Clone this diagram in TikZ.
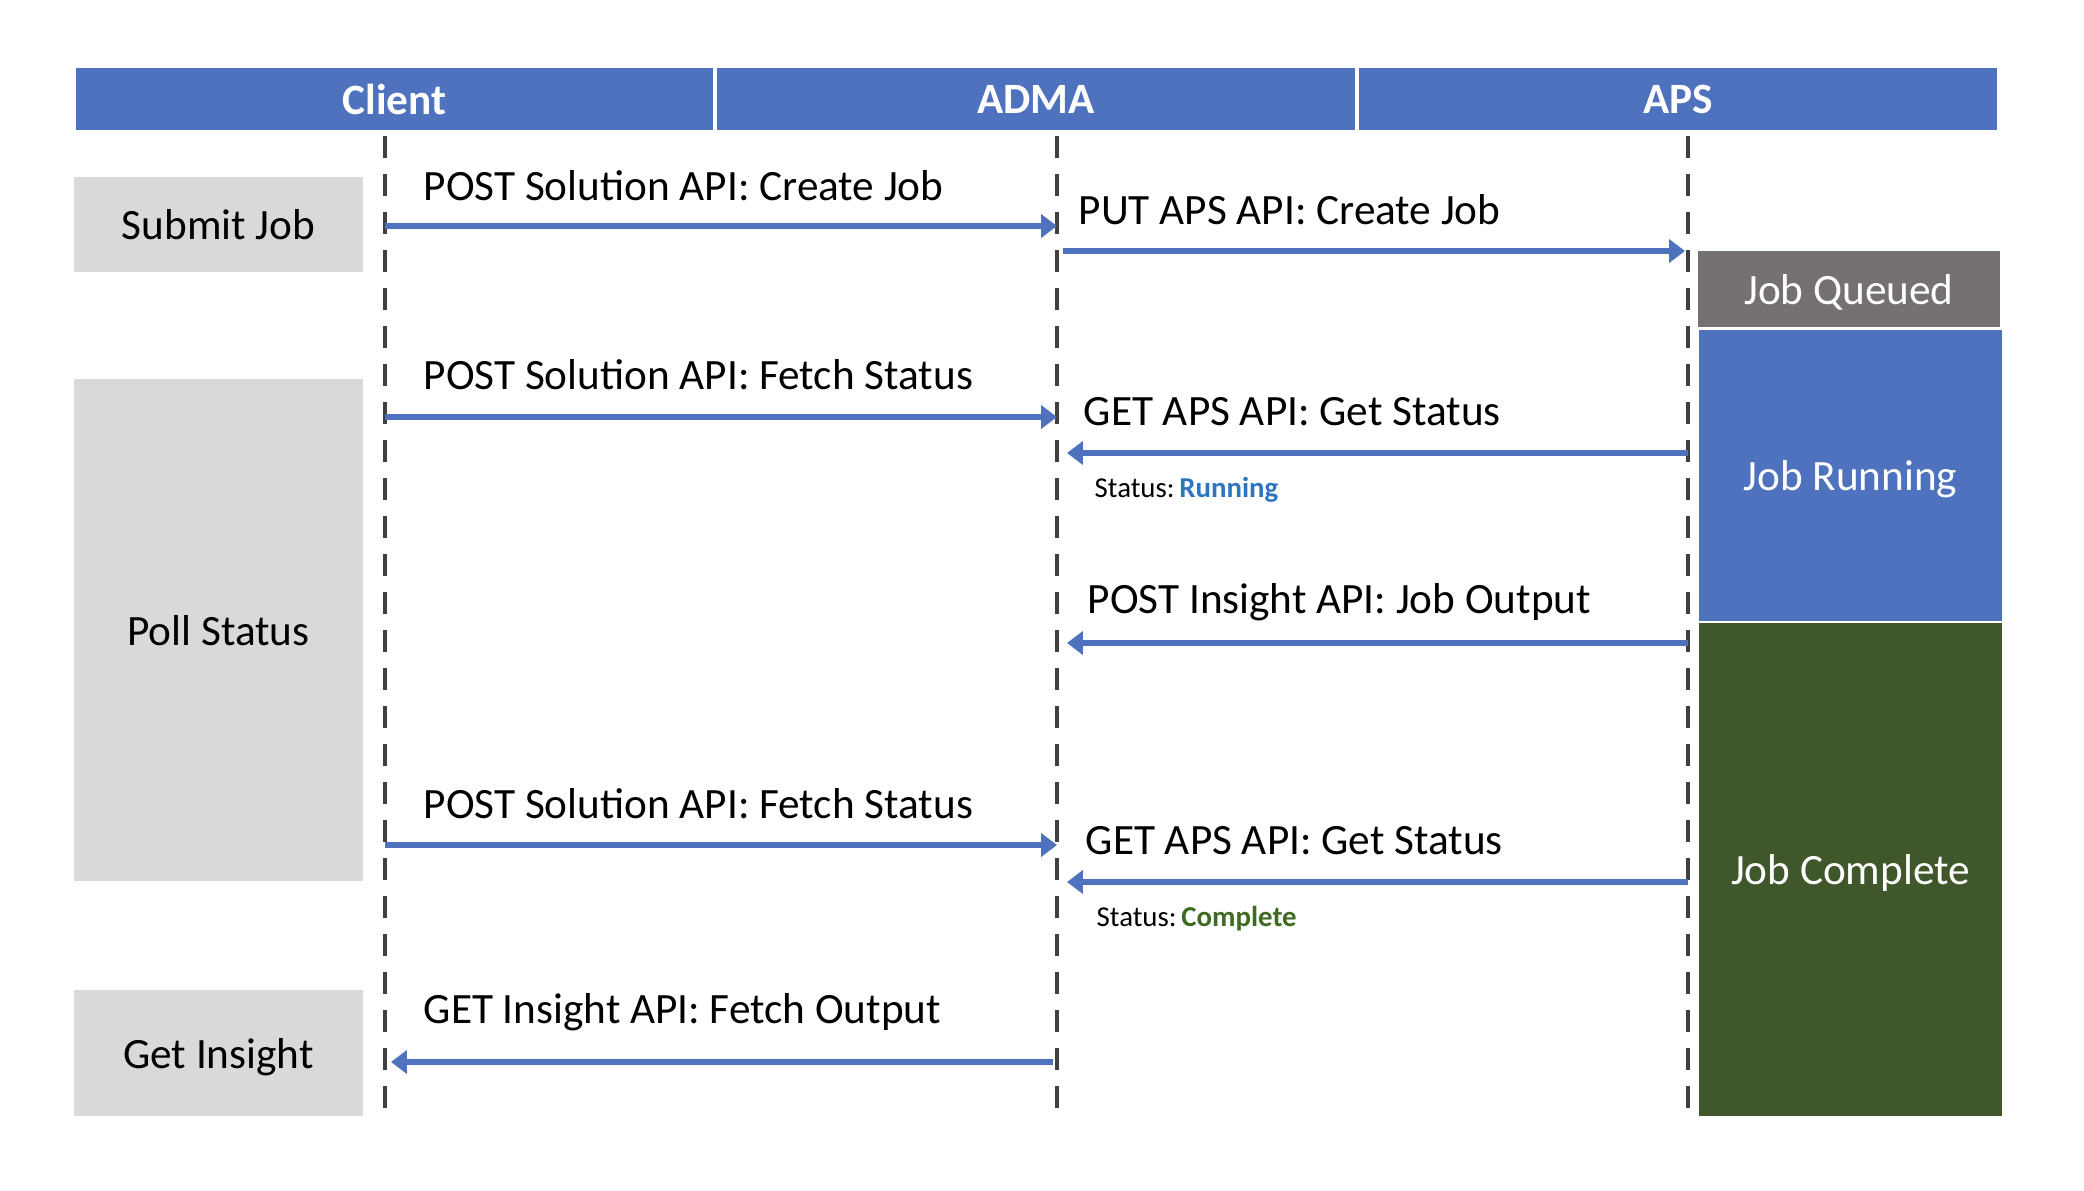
\documentclass[tikz,border=0pt]{standalone}
\usepackage{fontspec}
\setmainfont{Carlito}
\usetikzlibrary{arrows.meta}
\definecolor{hdrblue}{HTML}{4F72BE}
\definecolor{boxgray}{HTML}{D9D9D9}
\definecolor{queuegray}{HTML}{767171}
\definecolor{donegreen}{HTML}{3F572B}
\definecolor{runtext}{HTML}{2E74C0}
\definecolor{donetext}{HTML}{3F6A22}
\definecolor{lifegray}{HTML}{404040}
\tikzset{
  basefont/.style={font=\fontsize{12.3}{14}\selectfont},
  hdrcell/.style={fill=hdrblue, draw=white, line width=1.2pt, text=white, font=\fontsize{12.3}{14}\selectfont\bfseries, inner sep=0pt, outer sep=0pt, minimum height=0.66cm, text depth=0pt},
  phase/.style={fill=boxgray, basefont, inner sep=0pt, outer sep=0pt, minimum width=2.89cm, text depth=0pt},
  state/.style={text=white, basefont, inner sep=0pt, outer sep=0pt, minimum width=3.02cm, text depth=0pt},
  lifeline/.style={draw=lifegray, line width=1.3pt, dash pattern=on 6.3pt off 4.5pt},
  msg/.style={draw=hdrblue, line width=1.8pt, -{Triangle[length=4.5pt,width=6.5pt]}},
  msglabel/.style={basefont, anchor=base west, inner sep=0pt},
  statlabel/.style={font=\fontsize{8.2}{10}\selectfont, anchor=base west, inner sep=0pt}
}
\begin{document}
\begin{tikzpicture}[x=0.01cm, y=-0.01cm]
\useasboundingbox (0,0) rectangle (2084,1190);
% header
\node[hdrcell, minimum width=6.41cm] (hclient) at (394.5,99) {Client};
\node[hdrcell, minimum width=6.42cm] (hadma) at (1036,99) {ADMA};
\node[hdrcell, minimum width=6.42cm] (haps) at (1678,99) {APS};
% phases
\node[phase, minimum height=0.95cm] (submit) at (218.5,224.5) {Submit Job};
\node[phase, minimum height=5.02cm] (poll) at (218.5,630) {Poll Status};
\node[phase, minimum height=1.26cm] (insight) at (218.5,1053) {Get Insight};
% states
\node[state, fill=queuegray, minimum height=0.76cm] (queued) at (1849,289) {Job Queued};
\node[state, fill=hdrblue, minimum height=2.91cm] (running) at (1850.5,475.5) {Job Running};
\node[state, fill=donegreen, minimum height=4.93cm] (complete) at (1850.5,869.5) {Job Complete};
% lifelines
\coordinate (ct) at (385,136); \coordinate (cb) at (385,1112);
\coordinate (at) at (1057,136); \coordinate (ab) at (1057,1112);
\coordinate (pt) at (1688,136); \coordinate (pb) at (1688,1112);
\draw[lifeline] (ct) -- (cb);
\draw[lifeline] (at) -- (ab);
\draw[lifeline] (pt) -- (pb);
% message endpoints
\coordinate (c1) at (385,226); \coordinate (a1) at (1057,226);
\coordinate (a2) at (1063,251); \coordinate (p2) at (1685,251);
\coordinate (c3) at (385,417); \coordinate (a3) at (1057,417);
\coordinate (p4) at (1688,453); \coordinate (a4) at (1067,453);
\coordinate (p5) at (1688,643); \coordinate (a5) at (1067,643);
\coordinate (c6) at (385,845); \coordinate (a6) at (1057,845);
\coordinate (p7) at (1688,882); \coordinate (a7) at (1067,882);
\coordinate (a8) at (1053,1062); \coordinate (c8) at (391,1062);
\draw[msg] (c1) -- (a1);
\draw[msg] (a2) -- (p2);
\draw[msg] (c3) -- (a3);
\draw[msg] (p4) -- (a4);
\draw[msg] (p5) -- (a5);
\draw[msg] (c6) -- (a6);
\draw[msg] (p7) -- (a7);
\draw[msg] (a8) -- (c8);
% labels
\node[msglabel] (l1) at (423,200) {POST Solution API: Create Job};
\node[msglabel] (l2) at (1078,224) {PUT APS API: Create Job};
\node[msglabel] (l3) at (423,389) {POST Solution API: Fetch Status};
\node[msglabel] (l4) at (1083,425) {GET APS API: Get Status};
\node[statlabel] (s4) at (1094,497) {Status:\,\textcolor{runtext}{\bfseries Running}};
\node[msglabel] (l5) at (1087,613) {POST Insight API: Job Output};
\node[msglabel] (l6) at (423,818) {POST Solution API: Fetch Status};
\node[msglabel] (l7) at (1085,854) {GET APS API: Get Status};
\node[statlabel] (s7) at (1096,926) {Status:\,\textcolor{donetext}{\bfseries Complete}};
\node[msglabel] (l8) at (423,1023) {GET Insight API: Fetch Output};
\end{tikzpicture}
\end{document}
